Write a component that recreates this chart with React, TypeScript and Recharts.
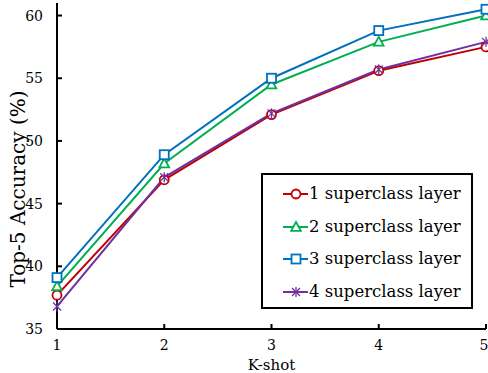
import React from 'react';
import {
  LineChart,
  Line,
  XAxis,
  YAxis,
  Legend,
} from 'recharts';

const kShots = [1, 2, 3, 4, 5];
const layer1 = [37.7, 46.9, 52.1, 55.6, 57.5];
const layer2 = [38.4, 48.2, 54.5, 57.9, 60.0];
const layer3 = [39.1, 48.9, 55.0, 58.8, 60.5];
const layer4 = [36.8, 47.1, 52.2, 55.7, 57.9];
const yTicks = [35, 40, 45, 50, 55, 60];

const seriesNames = ['1 superclass layer', '2 superclass layer', '3 superclass layer', '4 superclass layer'];
const seriesKeys = ['l1', 'l2', 'l3', 'l4'];
const seriesColors = ['#C00000', '#00B050', '#0070C0', '#7030A0'];
const seriesMarkers = ['circle', 'triangle', 'square', 'star'];

const chartData = kShots.map((k, i) => ({
  k,
  l1: layer1[i],
  l2: layer2[i],
  l3: layer3[i],
  l4: layer4[i],
}));

// only serif face in the sandbox
const FONT = 'DejaVu Serif';

function Marker({ kind, cx, cy, color }: { kind: string; cx: number; cy: number; color: string }) {
  if (kind === 'circle') {
    return <circle cx={cx} cy={cy} r={4.5} fill="#fff" stroke={color} strokeWidth={1.8} />;
  }
  if (kind === 'triangle') {
    return (
      <polygon
        points={`${cx},${cy - 5} ${cx - 4.8},${cy + 3.8} ${cx + 4.8},${cy + 3.8}`}
        fill="#fff"
        stroke={color}
        strokeWidth={1.8}
      />
    );
  }
  if (kind === 'square') {
    return <rect x={cx - 4.5} y={cy - 4.5} width={9} height={9} fill="#fff" stroke={color} strokeWidth={1.8} />;
  }
  return (
    <g stroke={color} strokeWidth={1.3}>
      <line x1={cx - 4} y1={cy - 4} x2={cx + 4} y2={cy + 4} />
      <line x1={cx - 4} y1={cy + 4} x2={cx + 4} y2={cy - 4} />
      <line x1={cx} y1={cy - 5} x2={cx} y2={cy + 5} />
    </g>
  );
}

const makeDot = (kind: string, color: string) => (props: any) => {
  const { cx, cy, index } = props;
  if (cx == null || cy == null) return <g key={index} />;
  return <Marker key={index} kind={kind} cx={cx} cy={cy} color={color} />;
};

const AxisTick = (props: any) => {
  const { x, y, payload, textAnchor, orientation } = props;
  const dy = orientation === 'bottom' ? '0.71em' : '0.355em';
  return (
    <text x={x} y={y} dy={dy} textAnchor={textAnchor} fill="#000" fontSize={14} fontFamily={FONT}>
      {payload.value}
    </text>
  );
};

function LegendBox() {
  return (
    <div
      style={{
        width: 208,
        height: 129,
        border: '2px solid #000',
        background: '#fff',
        fontFamily: FONT,
        fontSize: 16.5,
        color: '#000',
        paddingTop: 3,
        boxSizing: 'content-box',
      }}
    >
      {seriesNames.map((name, i) => (
        <div key={name} style={{ display: 'flex', alignItems: 'center', height: 32.5 }}>
          <svg width={46} height={16} style={{ flex: 'none' }}>
            <line x1={20} y1={8} x2={45} y2={8} stroke={seriesColors[i]} strokeWidth={2} />
            <Marker kind={seriesMarkers[i]} cx={33} cy={8} color={seriesColors[i]} />
          </svg>
          <span style={{ whiteSpace: 'nowrap', lineHeight: 1 }}>{name}</span>
        </div>
      ))}
    </div>
  );
}

export default function App() {
  return (
    <div style={{ position: 'absolute', left: 0, top: 0, background: '#fff' }}>
      <LineChart
        width={488}
        height={373}
        data={chartData}
        margin={{ top: 3, right: 2, bottom: 0, left: 0 }}
      >
        <XAxis
          dataKey="k"
          type="number"
          domain={[1, 5]}
          ticks={kShots}
          height={44}
          axisLine={{ stroke: '#000', strokeWidth: 2 }}
          tickLine={{ stroke: '#000', strokeWidth: 2 }}
          tickSize={-5}
          tickMargin={16}
          tick={<AxisTick orientation="bottom" />}
          label={{
            value: 'K-shot',
            position: 'insideBottom',
            offset: 3,
            fill: '#000',
            fontSize: 15,
            fontFamily: FONT,
          }}
        />
        <XAxis
          xAxisId="top"
          dataKey="k"
          type="number"
          domain={[1, 5]}
          orientation="top"
          height={0}
          tick={false}
          tickLine={false}
          axisLine={{ stroke: '#000', strokeWidth: 2 }}
        />
        <YAxis
          domain={[35, 61]}
          ticks={yTicks}
          width={57}
          axisLine={{ stroke: '#000', strokeWidth: 2 }}
          tickLine={{ stroke: '#000', strokeWidth: 2 }}
          tickSize={-5}
          tickMargin={19}
          tick={<AxisTick orientation="left" />}
          label={{
            value: 'Top-5  Accuracy (%)',
            angle: -90,
            position: 'center',
            dx: -11,
            dy: 23,
            fill: '#000',
            fontSize: 20,
            fontFamily: FONT,
            style: { whiteSpace: 'pre' },
          }}
        />
        <YAxis
          yAxisId="right"
          orientation="right"
          domain={[35, 61]}
          width={0}
          tick={false}
          tickLine={false}
          axisLine={{ stroke: '#000', strokeWidth: 2 }}
        />
        {seriesKeys.map((key, i) => (
          <Line
            key={key}
            dataKey={key}
            name={seriesNames[i]}
            stroke={seriesColors[i]}
            strokeWidth={2}
            dot={makeDot(seriesMarkers[i], seriesColors[i])}
            activeDot={false}
            isAnimationActive={false}
          />
        ))}
        <Legend
          layout="vertical"
          align="center"
          verticalAlign="middle"
          content={() => <LegendBox />}
          wrapperStyle={{ left: 261, top: 173, width: 'auto' }}
        />
      </LineChart>
    </div>
  );
}
